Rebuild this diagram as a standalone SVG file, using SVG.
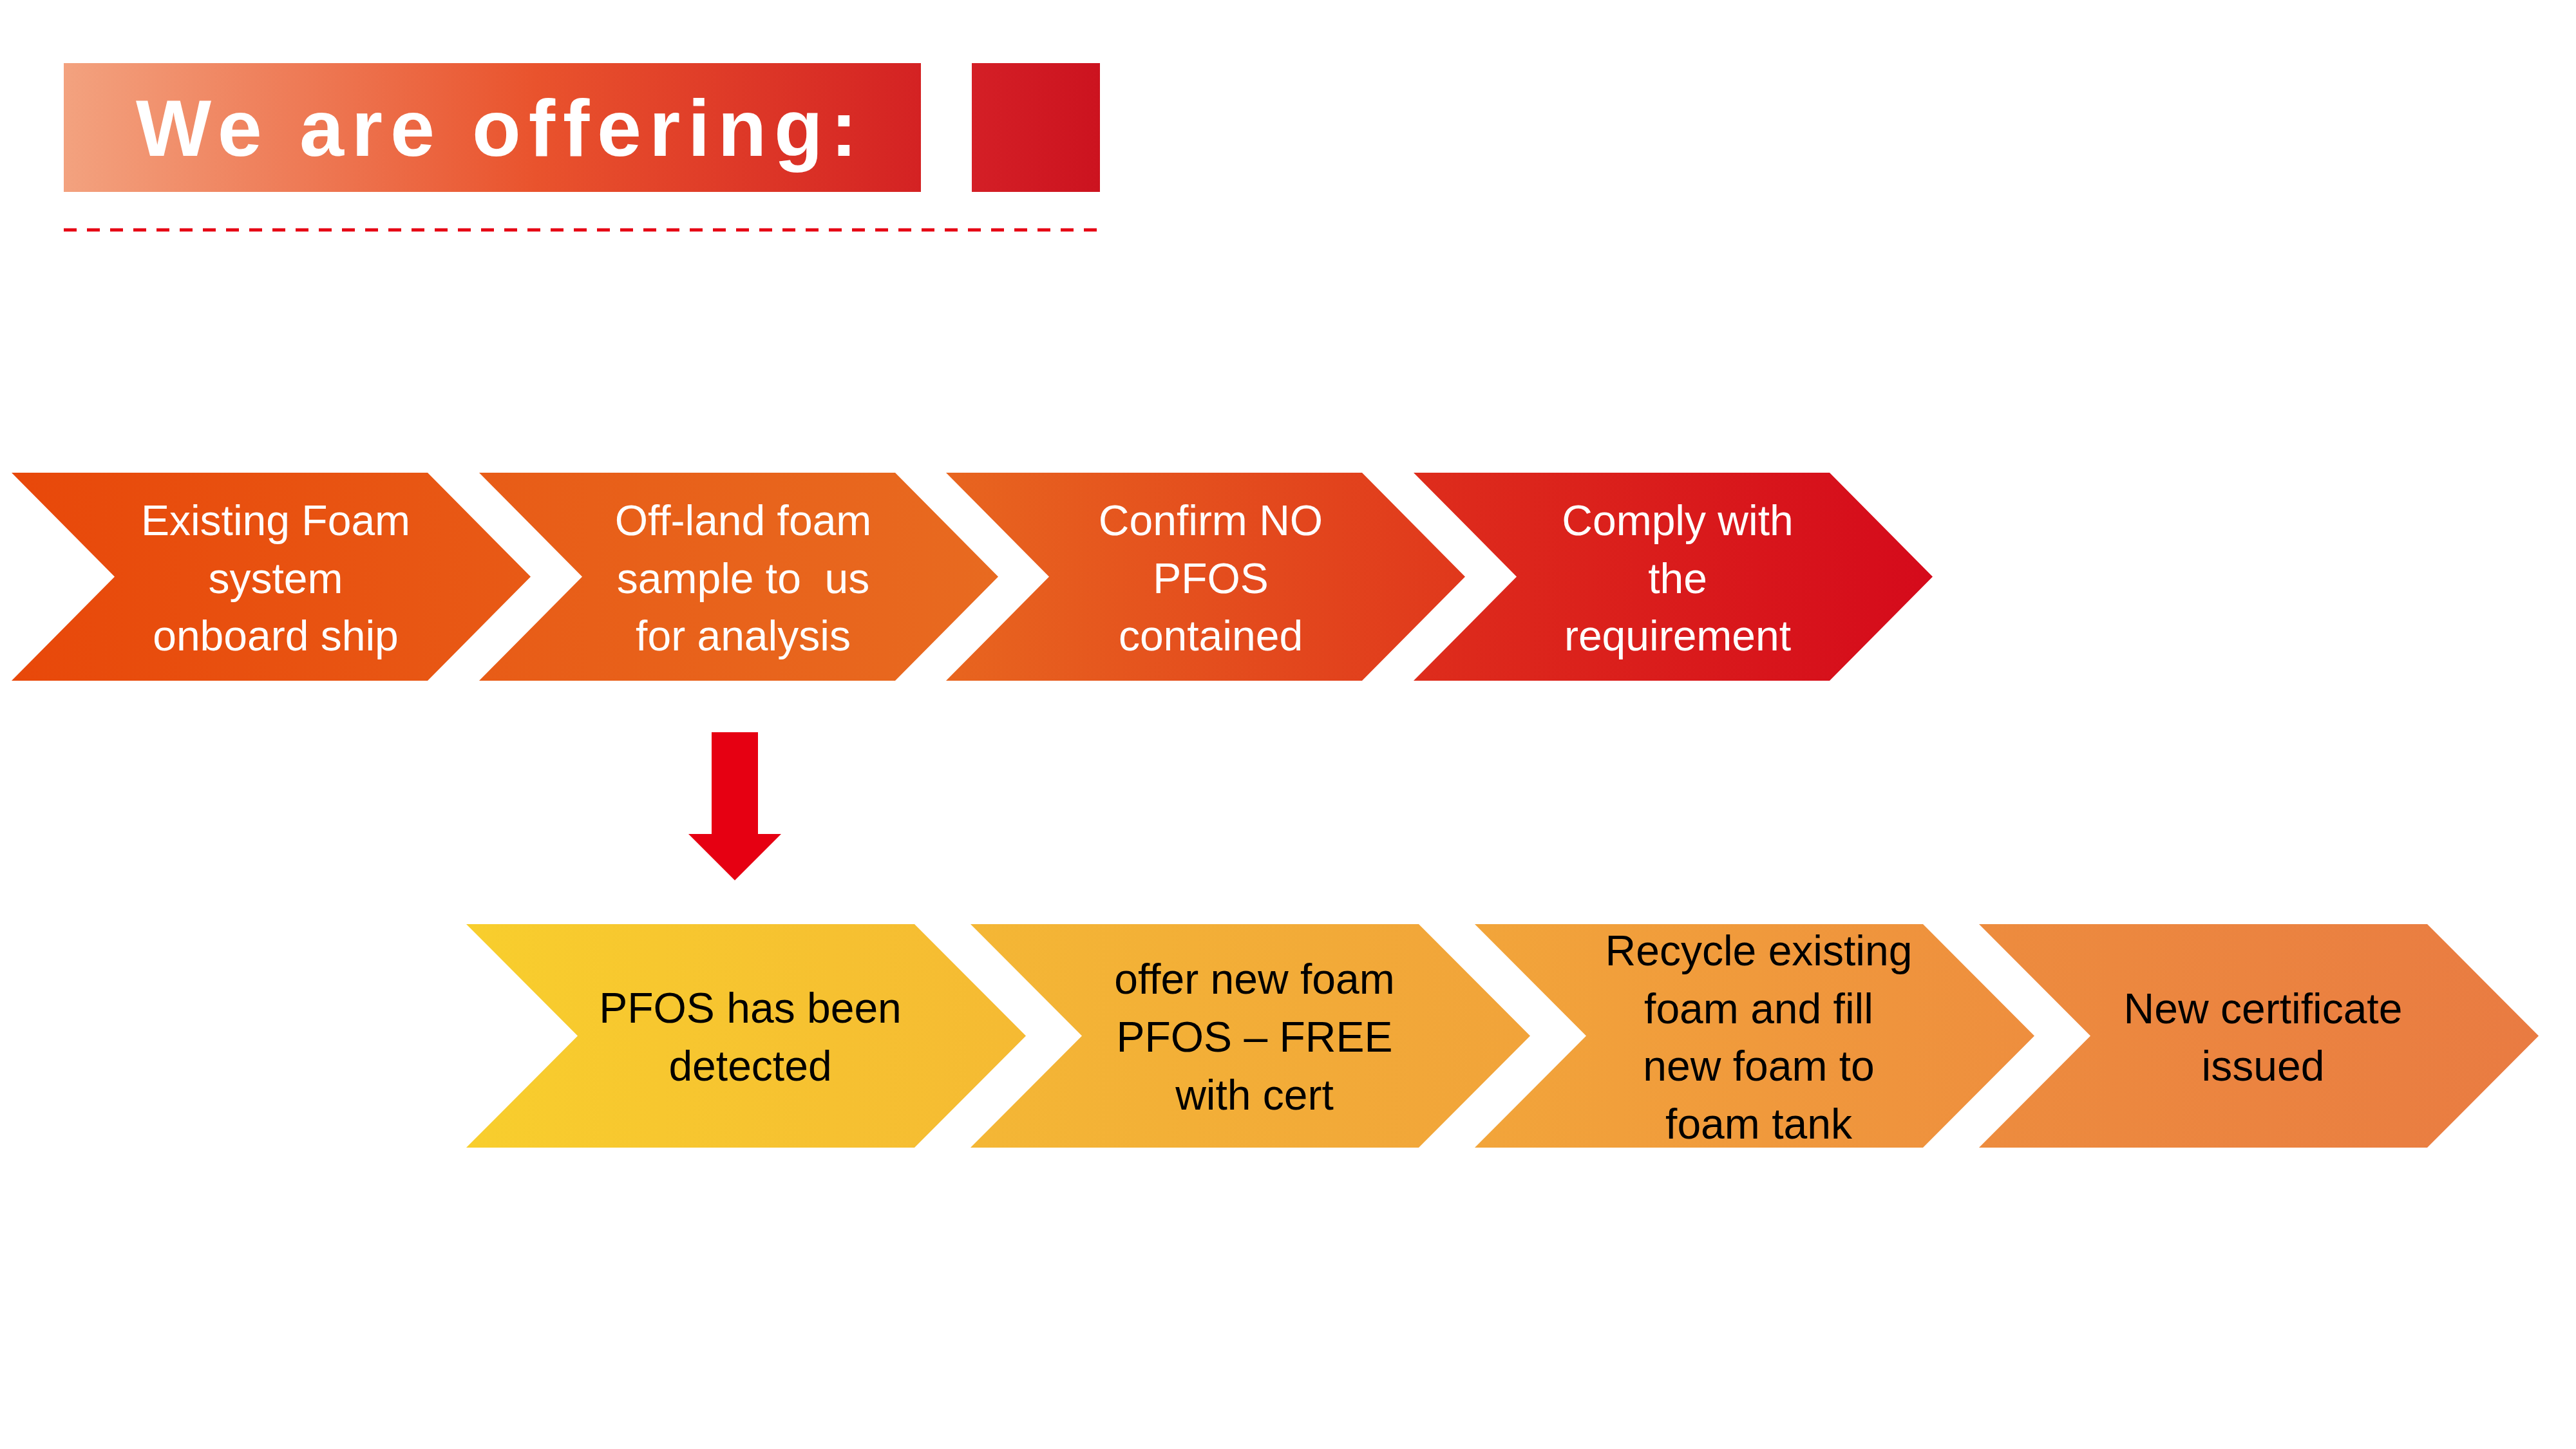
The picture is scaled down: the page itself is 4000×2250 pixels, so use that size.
<svg xmlns="http://www.w3.org/2000/svg" width="4000" height="2250" viewBox="0 0 4000 2250">
<defs>
<linearGradient id="gTitle" x1="0" y1="0" x2="1" y2="0">
<stop offset="0" stop-color="#F3A27F"/><stop offset="0.55" stop-color="#E9532D"/><stop offset="1" stop-color="#D42223"/>
</linearGradient>
<linearGradient id="gSq" x1="0" y1="0" x2="1" y2="0">
<stop offset="0" stop-color="#D41F26"/><stop offset="1" stop-color="#CC131F"/>
</linearGradient>
<linearGradient id="t1" x1="0" y1="0" x2="1" y2="0"><stop offset="0" stop-color="#E8480A"/><stop offset="1" stop-color="#E85A16"/></linearGradient>
<linearGradient id="t2" x1="0" y1="0" x2="1" y2="0"><stop offset="0" stop-color="#E85C17"/><stop offset="1" stop-color="#E86A20"/></linearGradient>
<linearGradient id="t3" x1="0" y1="0" x2="1" y2="0"><stop offset="0" stop-color="#E8651F"/><stop offset="1" stop-color="#E0381C"/></linearGradient>
<linearGradient id="t4" x1="0" y1="0" x2="1" y2="0"><stop offset="0" stop-color="#DE2D1C"/><stop offset="1" stop-color="#D50A1B"/></linearGradient>
<linearGradient id="b1" x1="0" y1="0" x2="1" y2="0"><stop offset="0" stop-color="#F8CE2D"/><stop offset="1" stop-color="#F5BA33"/></linearGradient>
<linearGradient id="b2" x1="0" y1="0" x2="1" y2="0"><stop offset="0" stop-color="#F4B735"/><stop offset="1" stop-color="#F1A33A"/></linearGradient>
<linearGradient id="b3" x1="0" y1="0" x2="1" y2="0"><stop offset="0" stop-color="#F2A53A"/><stop offset="1" stop-color="#EE8E3E"/></linearGradient>
<linearGradient id="b4" x1="0" y1="0" x2="1" y2="0"><stop offset="0" stop-color="#ED8C3E"/><stop offset="1" stop-color="#E97B42"/></linearGradient>
<style>
.tt{font-family:"Liberation Sans",Arial,sans-serif;font-size:66px;fill:#FFFFFF;text-anchor:middle;white-space:pre}
.bt{font-family:"Liberation Sans",Arial,sans-serif;font-size:66px;fill:#000000;text-anchor:middle}
.title{font-family:"Liberation Sans",Arial,sans-serif;font-size:124px;font-weight:bold;fill:#FFFFFF}
</style>
</defs>
<rect width="4000" height="2250" fill="#FFFFFF"/>
<g id="header">
<rect x="99" y="98" width="1331" height="200" fill="url(#gTitle)"/>
<rect x="1509" y="98" width="199" height="200" fill="url(#gSq)"/>
<text class="title" x="211" y="242" textLength="1120" lengthAdjust="spacing">We are offering:</text>
<line x1="99" y1="357" x2="1708" y2="357" stroke="#E60012" stroke-width="5" stroke-dasharray="20 16"/>
</g>
<g id="top1">
<polygon points="18,734 664,734 824,895.5 664,1057 18,1057 178,895.5" fill="url(#t1)"/>
<text class="tt" x="428" y="831">Existing Foam</text><text class="tt" x="428" y="921">system</text><text class="tt" x="428" y="1010">onboard ship</text>
</g>
<g id="top2">
<polygon points="744,734 1390,734 1550,895.5 1390,1057 744,1057 904,895.5" fill="url(#t2)"/>
<text class="tt" x="1154" y="831">Off-land foam</text><text class="tt" x="1154" y="921" xml:space="preserve">sample to  us</text><text class="tt" x="1154" y="1010">for analysis</text>
</g>
<g id="top3">
<polygon points="1469,734 2115,734 2275,895.5 2115,1057 1469,1057 1629,895.5" fill="url(#t3)"/>
<text class="tt" x="1880" y="831">Confirm NO</text><text class="tt" x="1880" y="921">PFOS</text><text class="tt" x="1880" y="1010">contained</text>
</g>
<g id="top4">
<polygon points="2195,734 2841,734 3001,895.5 2841,1057 2195,1057 2355,895.5" fill="url(#t4)"/>
<text class="tt" x="2605" y="831">Comply with</text><text class="tt" x="2605" y="921">the</text><text class="tt" x="2605" y="1010">requirement</text>
</g>
<g id="bot1">
<polygon points="724,1435 1420,1435 1593,1608.5 1420,1782 724,1782 897,1608.5" fill="url(#b1)"/>
<text class="bt" x="1165" y="1588">PFOS has been</text><text class="bt" x="1165" y="1678">detected</text>
</g>
<g id="bot2">
<polygon points="1507,1435 2203,1435 2376,1608.5 2203,1782 1507,1782 1680,1608.5" fill="url(#b2)"/>
<text class="bt" x="1948" y="1543">offer new foam</text><text class="bt" x="1948" y="1633">PFOS – FREE</text><text class="bt" x="1948" y="1723">with cert</text>
</g>
<g id="bot3">
<polygon points="2290,1435 2986,1435 3159,1608.5 2986,1782 2290,1782 2463,1608.5" fill="url(#b3)"/>
<text class="bt" x="2731" y="1499">Recycle existing</text><text class="bt" x="2731" y="1589">foam and fill</text><text class="bt" x="2731" y="1678">new foam to</text><text class="bt" x="2731" y="1768">foam tank</text>
</g>
<g id="bot4">
<polygon points="3073,1435 3769,1435 3942,1608.5 3769,1782 3073,1782 3246,1608.5" fill="url(#b4)"/>
<text class="bt" x="3514" y="1589">New certificate</text><text class="bt" x="3514" y="1678">issued</text>
</g>
<g id="connectors">
<polygon points="1105,1137 1177,1137 1177,1295 1213,1295 1141,1367 1069,1295 1105,1295" fill="#E60012"/>
</g>
</svg>
